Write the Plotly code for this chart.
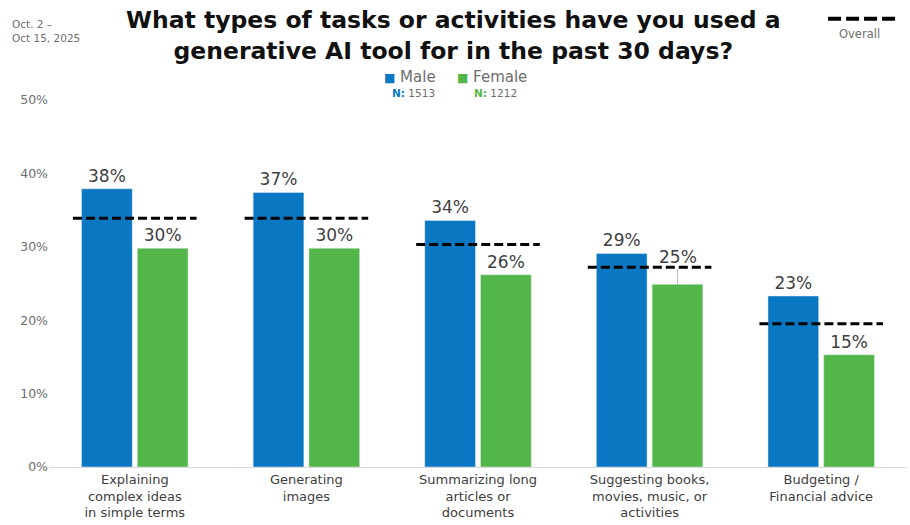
import plotly.graph_objects as go

categories = [
    "Explaining<br>complex ideas<br>in simple terms",
    "Generating<br>images",
    "Summarizing long<br>articles or<br>documents",
    "Suggesting books,<br>movies, music, or<br>activities",
    "Budgeting /<br>Financial advice",
]
male = [37.9, 37.4, 33.6, 29.1, 23.3]
female = [29.8, 29.8, 26.2, 24.9, 15.3]
overall = [33.9, 33.9, 30.3, 27.2, 19.5]
male_n = 1513
female_n = 1212
y_ticks = [0, 10, 20, 30, 40, 50]

BLUE = "#0A77C2"
GREEN = "#52B748"
TXT = "#404040"
GRAY = "#6E6E6E"
FONT = "DejaVu Sans"

# label for female bar 4 is lifted above the overall line with a leader line
lifted = {3}
female_text = ["" if i in lifted else f"{v:.0f}%" for i, v in enumerate(female)]

fig = go.Figure()
fig.add_trace(go.Bar(x=categories, y=male, name="Male", marker_color=BLUE,
                     text=[f"{v:.0f}%" for v in male], textposition="outside",
                     textfont=dict(size=17, color=TXT, family=FONT),
                     cliponaxis=False, showlegend=False, hoverinfo="skip"))
fig.add_trace(go.Bar(x=categories, y=female, name="Female", marker_color=GREEN,
                     text=female_text, textposition="outside",
                     textfont=dict(size=17, color=TXT, family=FONT),
                     cliponaxis=False, showlegend=False, hoverinfo="skip"))

for i, v in enumerate(overall):
    fig.add_shape(type="line", xref="x", yref="y", x0=i - 0.36, x1=i + 0.36, y0=v, y1=v,
                  line=dict(color="black", width=3, dash="9px,4px"))

for i in lifted:
    fig.add_annotation(x=i, xshift=28, y=female[i], xref="x", yref="y", text=f"{female[i]:.0f}%",
                       showarrow=True, arrowhead=0, arrowcolor="#BBBBBB", arrowwidth=1,
                       ax=0, ay=-27, standoff=0,
                       font=dict(size=17, color=TXT, family=FONT))

# title
fig.add_annotation(xref="paper", yref="paper", x=0.4715, y=1, xanchor="center", yanchor="bottom",
                   text="<b>What types of tasks or activities have you used a<br>generative AI tool for in the past 30 days?</b>",
                   showarrow=False, font=dict(size=23.5, color="#111111", family=FONT), yshift=33)

# date
fig.add_annotation(xref="paper", yref="paper", x=-0.045, y=1, xanchor="left", yanchor="top",
                   text="Oct. 2 –<br>Oct 15, 2025", align="left", showarrow=False,
                   font=dict(size=10.5, color=GRAY, family=FONT), yshift=84)

# custom legend
fig.add_annotation(xref="paper", yref="paper", x=0.388, y=1, xanchor="left", yanchor="middle",
                   text=f"<span style='color:{BLUE};font-size:12px'>■</span> Male", showarrow=False,
                   font=dict(size=15, color=GRAY, family=FONT), yshift=23)
fig.add_annotation(xref="paper", yref="paper", x=0.473, y=1, xanchor="left", yanchor="middle",
                   text=f"<span style='color:{GREEN};font-size:12px'>■</span> Female", showarrow=False,
                   font=dict(size=15, color=GRAY, family=FONT), yshift=23)
fig.add_annotation(xref="paper", yref="paper", x=0.398, y=1, xanchor="left", yanchor="middle",
                   text=f"<b><span style='color:{BLUE}'>N:</span></b><span style='color:{GRAY}'> {male_n}</span>",
                   showarrow=False, font=dict(size=10.5, color=GRAY, family=FONT), yshift=7)
fig.add_annotation(xref="paper", yref="paper", x=0.4925, y=1, xanchor="left", yanchor="middle",
                   text=f"<b><span style='color:{GREEN}'>N:</span></b><span style='color:{GRAY}'> {female_n}</span>",
                   showarrow=False, font=dict(size=10.5, color=GRAY, family=FONT), yshift=7)

# overall legend
fig.add_shape(type="line", xref="paper", yref="paper", x0=0.908, x1=0.988, y0=1.2215, y1=1.2215,
              line=dict(color="black", width=4, dash="13px,5px"))
fig.add_annotation(xref="paper", yref="paper", x=0.945, y=1, xanchor="center", yanchor="middle",
                   text="Overall", showarrow=False, font=dict(size=11.5, color=GRAY, family=FONT),
                   yshift=66)

fig.update_layout(
    width=910, height=525,
    margin=dict(l=49, r=3, t=100, b=58),
    paper_bgcolor="white", plot_bgcolor="white",
    barmode="group", bargap=0.35, bargroupgap=0.09,
    font=dict(family=FONT, color=TXT),
    hovermode=False,
    xaxis=dict(tickfont=dict(size=13, color=TXT, family=FONT), showline=True,
               linecolor="#D9D9D9", linewidth=1, ticks="", showgrid=False, automargin=False),
    yaxis=dict(range=[0, 50], tickvals=y_ticks, ticktext=[f"{t}%" for t in y_ticks],
               tickfont=dict(size=12.5, color=GRAY, family=FONT), showgrid=False,
               zeroline=False, showline=False, ticks="", ticklen=0, automargin=False),
)

fig.write_html("out.html", config={"displayModeBar": False},
               post_script="document.body.style.margin='0';document.body.style.overflow='hidden';")
